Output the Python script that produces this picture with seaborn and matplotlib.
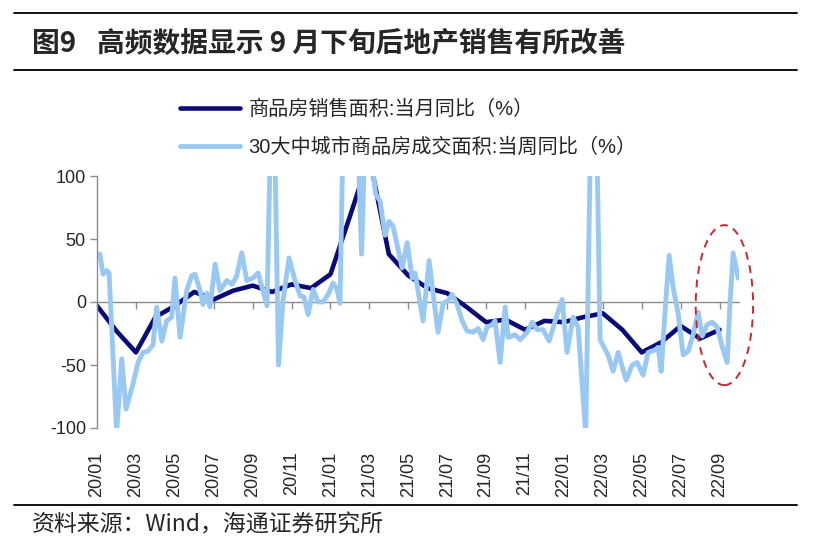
import matplotlib
matplotlib.use("Agg")
import matplotlib.pyplot as plt
import seaborn as sns
import pandas as pd
from matplotlib.patches import Ellipse
from matplotlib.lines import Line2D

# ---------------- data ----------------
tick_labels = ["20/01", "20/03", "20/05", "20/07", "20/09", "20/11",
               "21/01", "21/03", "21/05", "21/07", "21/09", "21/11",
               "22/01", "22/03", "22/05", "22/07", "22/09"]

# months since 2020/01
month_t = list(range(33))
sales_yoy = [-3, -23, -40, -12, -3, 8, 2, 9, 13, 8, 14, 11, 22, 68, 115, 38,
             21, 11, 7, -4, -16, -14, -22, -15, -16, -12, -9, -22, -40, -32,
             -19, -29, -22]

# weekly observations, time in months since 2020/01
weekly_t = [0.00, 0.15, 0.31, 0.50, 0.62, 1.01, 1.27, 1.49, 1.85, 2.11,
            2.37, 2.62, 2.88, 3.07, 3.33, 3.58, 3.84, 4.01, 4.27, 4.61,
            4.87, 5.04, 5.30, 5.45, 5.64, 5.81, 6.07, 6.32, 6.67, 6.93,
            7.17, 7.44, 7.70, 8.02, 8.28, 8.53, 8.74, 8.97, 9.10, 9.33,
            9.56, 9.87, 10.18, 10.44, 10.64, 10.85, 11.11, 11.36, 11.62, 11.88,
            12.13, 12.34, 12.49, 12.70, 12.96, 13.16, 13.37, 13.60, 13.83, 14.09,
            14.32, 14.55, 14.81, 15.01, 15.22, 15.42, 15.68, 15.94, 16.20, 16.35,
            16.50, 16.76, 17.07, 17.28, 17.53, 17.79, 18.05, 18.25, 18.51, 18.77,
            19.02, 19.33, 19.59, 19.85, 20.05, 20.31, 20.46, 20.72, 20.98, 21.13,
            21.49, 21.75, 22.11, 22.37, 22.62, 22.93, 23.24, 23.55, 23.91, 24.16,
            24.47, 24.73, 25.12, 25.40, 25.66, 25.86, 26.27, 26.53, 26.79, 26.99,
            27.20, 27.51, 27.76, 28.07, 28.33, 28.69, 28.84, 29.00, 29.20, 29.41,
            29.61, 29.87, 30.13, 30.39, 30.64, 30.90, 31.11, 31.36, 31.62, 31.88,
            32.13, 32.39, 32.54, 32.70, 32.96]
weekly_yoy = [36, 38, 22, 25, 23, -103, -45, -85, -65, -48,
              -40, -39, -34, -4, -31, -15, -12, 19, -28, 9,
              21, 22, 9, -2, 7, -4, 30, 9, 17, 14,
              20, 39, 17, 19, 23, 9, -3, 170, 160, -50,
              1, 35, 17, 5, 4, -10, 10, 0, 0, 6,
              15, 10, -1, 180, 200, 170, 150, 38, 160, 115,
              86, 80, 53, 64, 60, 46, 27, 47, 19, 23,
              9, -15, 33, 6, -24, -1, 1, 6, -2, -15,
              -23, -24, -21, -30, -20, -18, -15, -48, -4, -28,
              -26, -30, -24, -16, -22, -22, -31, -15, 2, -40,
              -12, -20, -105, 160, 160, -30, -42, -55, -40, -51,
              -62, -50, -48, -58, -40, -38, -36, -55, -7, 37,
              12, -9, -42, -39, -26, -8, -27, -18, -16, -20,
              -35, -48, 0, 39, 19]

label_monthly = "商品房销售面积:当月同比（%）"
label_weekly = "30大中城市商品房成交面积:当周同比（%）"
title_fig = "图9"
title_text = "高频数据显示 9 月下旬后地产销售有所改善"
source_text = "资料来源：Wind，海通证券研究所"

# ---------------- style ----------------
sns.set_theme(style="white")
plt.rcParams["font.family"] = ["Liberation Sans", "Noto Sans CJK SC", "DejaVu Sans"]
plt.rcParams["axes.unicode_minus"] = False

navy = "#0B0B78"
light = "#99C8F2"
gray = "#8C8C8C"

df_m = pd.DataFrame({"t": month_t, "v": sales_yoy})
df_w = pd.DataFrame({"t": weekly_t, "v": weekly_yoy})

fig = plt.figure(figsize=(8.14, 5.52), dpi=100)
ax = fig.add_axes([97 / 814, 1 - 428 / 552, 642 / 814, 252 / 552])

sns.lineplot(data=df_m, x="t", y="v", ax=ax, color=navy, lw=3.3,
             estimator=None, label=label_monthly)
sns.lineplot(data=df_w, x="t", y="v", ax=ax, color=light, lw=3.5,
             estimator=None, label=label_weekly)
ax.get_legend().remove()

ax.set_xlim(0, 33)
ax.set_ylim(-100, 100)
ax.set_xlabel("")
ax.set_ylabel("")

for s in ["top", "right"]:
    ax.spines[s].set_visible(False)
ax.spines["left"].set_color(gray)
ax.spines["left"].set_linewidth(1.0)
ax.spines["bottom"].set_position(("data", 0))
ax.spines["bottom"].set_color(gray)
ax.spines["bottom"].set_linewidth(1.0)
ax.spines["bottom"].set_zorder(0.5)

ax.set_xticks(range(0, 33, 2))
ax.tick_params(axis="x", bottom=True, direction="out", length=5, width=1,
               color=gray, labelbottom=False)
ax.set_yticks([-100, -50, 0, 50, 100])
ax.tick_params(axis="y", left=True, direction="out", length=5, width=1,
               color=gray, labelsize=13, pad=3)

sec = ax.secondary_xaxis("bottom")
sec.set_xticks(range(0, 33, 2), labels=tick_labels, rotation=90)
sec.tick_params(length=0, pad=17, labelsize=13)
sec.spines["bottom"].set_visible(False)

# dashed highlight ellipse (annotation)
ell = Ellipse((32.25, -2.5), width=2.95, height=127, fill=False,
              edgecolor="#C42A30", lw=1.4, linestyle=(0, (4, 3)),
              clip_on=False, zorder=5)
ax.add_patch(ell)

# legend
handles = [Line2D([], [], color=navy, lw=3.3), Line2D([], [], color=light, lw=3.5)]
fig.legend(handles, [label_monthly, label_weekly], loc="upper left",
           bbox_to_anchor=(180 / 814, 1 - 100 / 552), frameon=False,
           fontsize=14.5, handlelength=3.0, handletextpad=0.4,
           labelspacing=0.9, borderpad=0, borderaxespad=0)

# title, rules, source
for yy in [13, 70, 505]:
    fig.add_artist(Line2D([14 / 814, 797 / 814], [1 - yy / 552, 1 - yy / 552],
                          transform=fig.transFigure, color="black", lw=1.3))
fig.text(32 / 814, 1 - 44 / 552, title_fig, fontsize=20, fontweight="bold",
         va="center", ha="left", family=["Noto Sans CJK SC", "DejaVu Sans"])
fig.text(97 / 814, 1 - 44 / 552, title_text, fontsize=20, fontweight="bold",
         va="center", ha="left", family=["Noto Sans CJK SC", "DejaVu Sans"])
fig.text(32 / 814, 1 - 525 / 552, source_text, fontsize=16.5, va="center",
         ha="left", family=["Noto Sans CJK SC", "DejaVu Sans"])

fig.savefig("out.png", dpi=100)
